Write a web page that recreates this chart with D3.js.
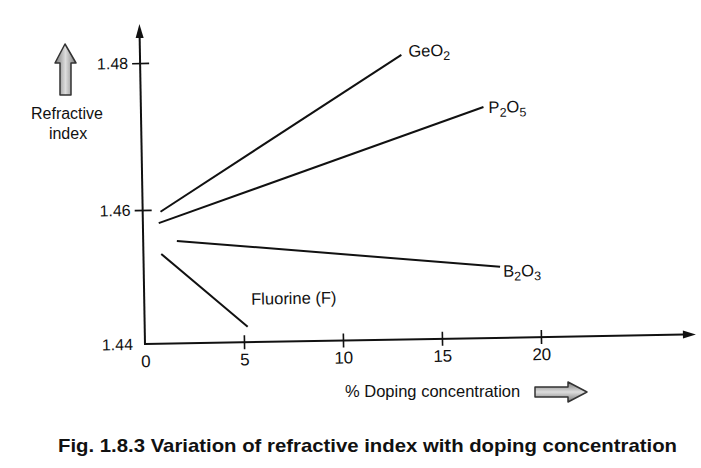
<!DOCTYPE html>
<html lang="en">
<head>
  <meta charset="UTF-8" />
  <title>Variation of refractive index with doping concentration</title>
  <script src="https://cdn.jsdelivr.net/npm/d3@7"></script>
  <style>
    body {
      margin: 0;
      background: #fff;
      font-family: "Liberation Sans", Arial, sans-serif;
    }

    svg {
      display: block;
    }
  </style>
</head>

<body>
  <svg id="chart" width="701" height="468"></svg>
  <script>
    // values
    const xTicks = [0, 5, 10, 15, 20];
    const yTicks = [1.44, 1.46, 1.48];
    const dopants = ["GeO2", "P2O5", "B2O3", "Fluorine (F)"];
    const dopingStart = [0.9, 0.8, 1.7, 0.9];
    const dopingEnd = [13.2, 17.3, 18.0, 5.2];
    const indexStart = [1.4597, 1.458, 1.4553, 1.4534];
    const indexEnd = [1.4805, 1.4732, 1.4506, 1.4423];

    const ink = "#111";
    const svg = d3.select("#chart");

    // the printed axis is not evenly spaced, so the scale has three stops
    const x = d3.scaleLinear().domain([0, 20]).range([145, 541]);
    const y = d3.scaleLinear().domain(yTicks).range([344, 210, 63]);

    const defs = svg.append("defs");
    const gradV = defs.append("linearGradient").attr("id", "shadeV")
      .attr("x1", 0).attr("y1", 0).attr("x2", 1).attr("y2", 0);
    gradV.append("stop").attr("offset", "0%").attr("stop-color", "#777");
    gradV.append("stop").attr("offset", "50%").attr("stop-color", "#ddd");
    gradV.append("stop").attr("offset", "100%").attr("stop-color", "#777");
    const gradH = defs.append("linearGradient").attr("id", "shadeH")
      .attr("x1", 0).attr("y1", 0).attr("x2", 0).attr("y2", 1);
    gradH.append("stop").attr("offset", "0%").attr("stop-color", "#777");
    gradH.append("stop").attr("offset", "50%").attr("stop-color", "#ddd");
    gradH.append("stop").attr("offset", "100%").attr("stop-color", "#777");

    // the scanned figure sits about one degree off square
    const plot = svg.append("g").attr("transform", "rotate(-1,145,344)");

    // x axis
    const xAxis = plot.append("g")
      .attr("transform", `translate(0,${y(1.44)})`)
      .call(d3.axisBottom(x).tickValues(xTicks).tickSize(7).tickPadding(4));
    xAxis.select(".domain").remove();
    xAxis.attr("font-family", null).attr("font-size", 17);
    xAxis.selectAll(".tick line").attr("y1", -7).attr("stroke", ink).attr("stroke-width", 1.6)
      .filter((d) => d === 0).remove();
    xAxis.selectAll(".tick text").attr("fill", ink);

    plot.append("line")
      .attr("x1", x(0)).attr("x2", 684)
      .attr("y1", y(1.44)).attr("y2", y(1.44))
      .attr("stroke", ink).attr("stroke-width", 2);
    plot.append("path")
      .attr("d", `M696,${y(1.44)}L683,${y(1.44) - 4}L683,${y(1.44) + 4}Z`)
      .attr("fill", ink);

    // y axis
    const yAxis = plot.append("g")
      .attr("transform", `translate(${x(0)},0)`)
      .call(d3.axisLeft(y).tickValues(yTicks).tickFormat(d3.format(".2f")).tickSize(8).tickPadding(4));
    yAxis.select(".domain").remove();
    yAxis.attr("font-family", null).attr("font-size", 16);
    yAxis.selectAll(".tick line").attr("x1", 9).attr("stroke", ink).attr("stroke-width", 1.6)
      .filter((d) => d === 1.44).remove();
    yAxis.selectAll(".tick text").attr("fill", ink);

    plot.append("line")
      .attr("x1", x(0)).attr("x2", x(0))
      .attr("y1", y(1.44) + 1).attr("y2", 36)
      .attr("stroke", ink).attr("stroke-width", 2);
    plot.append("path")
      .attr("d", `M${x(0)},24L${x(0) - 4},38L${x(0) + 4},38Z`)
      .attr("fill", ink);

    // dopant lines
    const lines = dopants.map((name, i) => ({
      name,
      p0: [dopingStart[i], indexStart[i]],
      p1: [dopingEnd[i], indexEnd[i]],
    }));

    plot.selectAll(".dopant")
      .data(lines)
      .join("line")
      .attr("class", "dopant")
      .attr("x1", (d) => x(d.p0[0]))
      .attr("y1", (d) => y(d.p0[1]))
      .attr("x2", (d) => x(d.p1[0]))
      .attr("y2", (d) => y(d.p1[1]))
      .attr("stroke", ink)
      .attr("stroke-width", 2);

    // labels at the end of each line, chemical formulae with subscripts
    const labelOffset = {
      "GeO2": [7, 2],
      "P2O5": [5, 6],
      "B2O3": [3, 10],
      "Fluorine (F)": [4, -22],
    };
    const lbl = plot.selectAll(".lbl")
      .data(lines)
      .join("text")
      .attr("class", "lbl")
      .attr("x", (d) => x(d.p1[0]) + labelOffset[d.name][0])
      .attr("y", (d) => y(d.p1[1]) + labelOffset[d.name][1])
      .attr("font-size", 16.5)
      .attr("fill", ink);

    lbl.each(function (d) {
      const t = d3.select(this);
      if (d.name.startsWith("Fluorine")) {
        t.text(d.name);
        return;
      }
      // split into letters and digit subscripts
      const parts = d.name.match(/[A-Za-z]+|\d+/g);
      let sub = false;
      parts.forEach((p) => {
        const isNum = /\d/.test(p);
        const ts = t.append("tspan").text(p);
        if (isNum) {
          ts.attr("font-size", 12.5).attr("dy", sub ? 0 : 4);
          sub = true;
        } else if (sub) {
          ts.attr("dy", -4);
          sub = false;
        }
      });
    });

    // "Refractive index" block arrow
    svg.append("path")
      .attr("d", "M65,44L76,63L71,63L71,95L60,95L60,63L55,63Z")
      .attr("fill", "url(#shadeV)")
      .attr("stroke", "#333")
      .attr("stroke-width", 1.5)
      .attr("stroke-linejoin", "round");
    svg.append("text")
      .attr("x", 67).attr("y", 119)
      .attr("text-anchor", "middle")
      .attr("font-size", 16).attr("fill", ink)
      .text("Refractive");
    svg.append("text")
      .attr("x", 68).attr("y", 139)
      .attr("text-anchor", "middle")
      .attr("font-size", 16).attr("fill", ink)
      .text("index");

    // "% Doping concentration" block arrow
    svg.append("text")
      .attr("x", 345).attr("y", 397)
      .attr("font-size", 16.5).attr("fill", ink)
      .text("% Doping concentration");
    svg.append("path")
      .attr("d", "M535,387L568,387L568,382L587,392L568,402L568,397L535,397Z")
      .attr("fill", "url(#shadeH)")
      .attr("stroke", "#333")
      .attr("stroke-width", 1.5)
      .attr("stroke-linejoin", "round");

    // caption
    svg.append("text")
      .attr("x", 58).attr("y", 452)
      .attr("font-size", 19)
      .attr("font-weight", "bold")
      .attr("fill", "#111")
      .attr("textLength", 619)
      .attr("lengthAdjust", "spacingAndGlyphs")
      .text("Fig. 1.8.3 Variation of refractive index with doping concentration");
  </script>
</body>

</html>
